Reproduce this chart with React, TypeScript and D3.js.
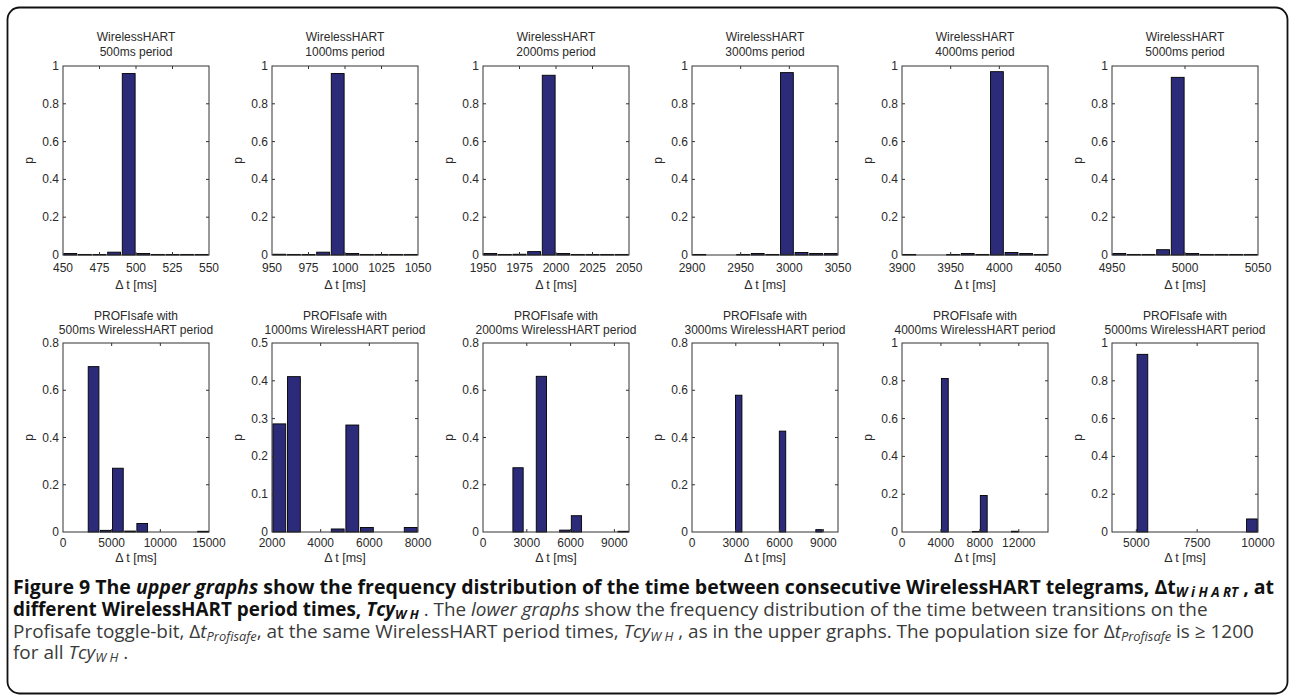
import React, { useEffect, useRef, useState } from 'react';
import * as d3 from 'd3';

// WirelessHART period times (ms) for the six columns
const periods = [500, 1000, 2000, 3000, 4000, 5000];

// Upper row: time between consecutive WirelessHART telegrams
const whDomains: [number, number][] = [
  [450, 550], [950, 1050], [1950, 2050], [2900, 3050], [3900, 4050], [4950, 5050],
];
const whTicks = [
  [450, 475, 500, 525, 550],
  [950, 975, 1000, 1025, 1050],
  [1950, 1975, 2000, 2025, 2050],
  [2900, 2950, 3000, 3050],
  [3900, 3950, 4000, 4050],
  [4950, 5000, 5050],
];
const whBinWidth = [10, 10, 10, 15, 15, 10];
const whCenters = [
  [455, 465, 475, 485, 495, 505, 515, 525, 535, 545],
  [955, 965, 975, 985, 995, 1005, 1015, 1025, 1035, 1045],
  [1955, 1965, 1975, 1985, 1995, 2005, 2015, 2025, 2035, 2045],
  [2907.5, 2922.5, 2937.5, 2952.5, 2967.5, 2982.5, 2997.5, 3012.5, 3027.5, 3042.5],
  [3907.5, 3922.5, 3937.5, 3952.5, 3967.5, 3982.5, 3997.5, 4012.5, 4027.5, 4042.5],
  [4955, 4965, 4975, 4985, 4995, 5005, 5015, 5025, 5035, 5045],
];
const whValues = [
  [0.008, 0.003, 0.003, 0.015, 0.960, 0.008, 0.003, 0.003, 0.003, 0.003],
  [0.004, 0.003, 0.003, 0.015, 0.960, 0.008, 0.003, 0.003, 0.003, 0.003],
  [0.008, 0.003, 0.004, 0.018, 0.951, 0.008, 0.003, 0.003, 0.003, 0.003],
  [0.003, 0, 0, 0.003, 0.008, 0.003, 0.965, 0.013, 0.008, 0.008],
  [0.003, 0, 0, 0.003, 0.008, 0.003, 0.970, 0.013, 0.008, 0.003],
  [0.008, 0.003, 0.003, 0.028, 0.940, 0.008, 0.003, 0.003, 0.003, 0.003],
];
const whYTicks = [0, 0.2, 0.4, 0.6, 0.8, 1];

// Lower row: time between transitions on the PROFIsafe toggle-bit
const psDomains: [number, number][] = [
  [0, 15000], [2000, 8000], [0, 10000], [0, 10000], [0, 15000], [4000, 10000],
];
const psTicks = [
  [0, 5000, 10000, 15000],
  [2000, 4000, 6000, 8000],
  [0, 3000, 6000, 9000],
  [0, 3000, 6000, 9000],
  [0, 4000, 8000, 12000],
  [5000, 7500, 10000],
];
const psBinWidth = [1250, 600, 800, 500, 800, 500];
const psCenters = [
  [3140, 4390, 5640, 6890, 8140, 9390, 10640, 11890, 13140, 14390],
  [2300, 2900, 3500, 4100, 4700, 5300, 5900, 6500, 7100, 7700],
  [2400, 3200, 4000, 4800, 5600, 6400, 7200, 8000, 8800, 9600],
  [3200, 3700, 4200, 4700, 5200, 5700, 6200, 6700, 7200, 7700, 8200, 8700],
  [4400, 5200, 6000, 6800, 7600, 8400, 9200, 10000, 10800, 11600],
  [5250, 5750, 6250, 6750, 7250, 7750, 8250, 8750, 9250, 9750],
];
const psValues = [
  [0.700, 0.007, 0.270, 0.004, 0.036, 0, 0, 0, 0, 0.003],
  [0.286, 0.411, 0, 0, 0.008, 0.283, 0.012, 0, 0, 0.012],
  [0.272, 0, 0.659, 0, 0.008, 0.069, 0, 0, 0, 0.003],
  [0.579, 0, 0, 0, 0, 0, 0.427, 0, 0, 0, 0, 0.010],
  [0.812, 0, 0, 0, 0.003, 0.193, 0, 0, 0, 0.004],
  [0.940, 0, 0, 0, 0, 0, 0, 0, 0, 0.069],
];
const psYMax = [0.8, 0.5, 0.8, 0.8, 1, 1];
const psYTicks = [
  [0, 0.2, 0.4, 0.6, 0.8],
  [0, 0.1, 0.2, 0.3, 0.4, 0.5],
  [0, 0.2, 0.4, 0.6, 0.8],
  [0, 0.2, 0.4, 0.6, 0.8],
  [0, 0.2, 0.4, 0.6, 0.8, 1],
  [0, 0.2, 0.4, 0.6, 0.8, 1],
];

// layout
const W = 1293;
const H = 696;
const colLeft = [63, 272, 483, 692, 902, 1112];
const plotW = 146;
const plotH = 189;
const rows = [
  { top: 66, title: [-25.5, -10], tick: 16.5, label: 33.5 },
  { top: 343, title: [-23.5, -9.5], tick: 15, label: 29.5 },
];
const BAR = '#2b2b7a';
const INK = '#2a2a2a';
const FONT = '"Liberation Sans", Arial, Helvetica, sans-serif';

// caption: right ends of the first three lines (ragged right) and baselines
const captionRight = [1275, 1208, 1254];
const captionBase = [594, 616, 637.5, 659];

interface PanelProps {
  left: number;
  row: typeof rows[number];
  title: string[];
  xDomain: [number, number];
  xTicks: number[];
  centers: number[];
  values: number[];
  binWidth: number;
  yMax: number;
  yTicks: number[];
}

const fmtY = (v: number) => String(+v.toFixed(1));

const Panel: React.FC<PanelProps> = ({ left, row, title, xDomain, xTicks, centers, values, binWidth, yMax, yTicks }) => {
  const top = row.top;
  const x = d3.scaleLinear().domain(xDomain).range([left, left + plotW]);
  const y = d3.scaleLinear().domain([0, yMax]).range([top + plotH, top]);
  const half = binWidth * 0.44;
  const tl = 3;

  return (
    <g fontFamily={FONT} fill={INK}>
      {title.map((t, i) => (
        <text key={i} x={left + plotW / 2} y={top + row.title[i]} textAnchor="middle" fontSize={12}>{t}</text>
      ))}
      {values.map((v, i) => v > 0 && (
        <rect
          key={i}
          x={x(centers[i] - half)}
          y={y(v)}
          width={x(centers[i] + half) - x(centers[i] - half)}
          height={y(0) - y(v)}
          fill={BAR}
          stroke="#000"
          strokeWidth={0.9}
        />
      ))}
      <rect x={left} y={top} width={plotW} height={plotH} fill="none" stroke="#333" strokeWidth={1} />
      {xTicks.map(t => (
        <g key={t}>
          {x(t) > left + 0.5 && x(t) < left + plotW - 0.5 && (
            <>
              <line x1={x(t)} x2={x(t)} y1={top + plotH} y2={top + plotH - tl} stroke="#333" />
              <line x1={x(t)} x2={x(t)} y1={top} y2={top + tl} stroke="#333" />
            </>
          )}
          <text x={x(t)} y={top + plotH + row.tick} textAnchor="middle" fontSize={12}>{t}</text>
        </g>
      ))}
      {yTicks.map(t => (
        <g key={t}>
          {t > 0 && t < yMax && (
            <>
              <line x1={left} x2={left + tl} y1={y(t)} y2={y(t)} stroke="#333" />
              <line x1={left + plotW} x2={left + plotW - tl} y1={y(t)} y2={y(t)} stroke="#333" />
            </>
          )}
          <text x={left - 4} y={y(t) + 4} textAnchor="end" fontSize={12}>{fmtY(t)}</text>
        </g>
      ))}
      <text x={left + plotW / 2} y={top + plotH + row.label} textAnchor="middle" fontSize={12.5}>{'\u0394 t [ms]'}</text>
      <text transform={`translate(${left - 30},${top + plotH / 2}) rotate(-90)`} textAnchor="middle" fontSize={12}>p</text>
    </g>
  );
};

const Caption: React.FC = () => {
  const refs = useRef<(SVGTextElement | null)[]>([]);
  const base = 16;
  const [sizes, setSizes] = useState<number[]>([base, base, base, base]);
  const x0 = 13;

  useEffect(() => {
    // scale each of the first three lines so its right end lands where the figure's does
    const fitted = captionRight.map((r, i) => {
      const el = refs.current[i];
      const w = el ? el.getComputedTextLength() : 0;
      return w > 0 ? base * (r - x0) / w : base;
    });
    setSizes([...fitted, fitted[2]]);
  }, []);

  const bold = { fontWeight: 700, fill: '#111' };
  const bi = { fontWeight: 700, fontStyle: 'italic', fill: '#111' };
  const it = { fontStyle: 'italic' };
  const dy = 3;
  const line = (i: number) => ({
    ref: (el: SVGTextElement | null) => { refs.current[i] = el; },
    x: x0,
    y: captionBase[i],
    fontSize: sizes[i],
  });
  const sub = (i: number) => sizes[i] * 0.68;

  return (
    <g fontFamily='"Open Sans", "Noto Sans", sans-serif' fill="#3a3a3a">
      <text {...line(0)}>
        <tspan style={bold}>{'Figure 9 The '}</tspan>
        <tspan style={bi}>upper graphs</tspan>
        <tspan style={bold}>{' show the frequency distribution of the time between consecutive WirelessHART telegrams, \u0394t'}</tspan>
        <tspan style={bi} fontSize={sub(0)} dy={dy}>{'W i H A RT'}</tspan>
        <tspan style={bold} dy={-dy}>{' , at'}</tspan>
      </text>
      <text {...line(1)}>
        <tspan style={bold}>{'different WirelessHART period times, '}</tspan>
        <tspan style={bi}>Tcy</tspan>
        <tspan style={bi} fontSize={sub(1)} dy={dy}>{'W H'}</tspan>
        <tspan dy={-dy}>{' . The '}</tspan>
        <tspan style={it}>lower graphs</tspan>
        <tspan>{' show the frequency distribution of the time between transitions on the'}</tspan>
      </text>
      <text {...line(2)}>
        <tspan>{'Profisafe toggle-bit, \u0394'}</tspan>
        <tspan style={it}>t</tspan>
        <tspan style={it} fontSize={sub(2)} dy={dy}>Profisafe</tspan>
        <tspan dy={-dy}>{', at the same WirelessHART period times, '}</tspan>
        <tspan style={it}>Tcy</tspan>
        <tspan style={it} fontSize={sub(2)} dy={dy}>{'W H'}</tspan>
        <tspan dy={-dy}>{' , as in the upper graphs. The population size for \u0394'}</tspan>
        <tspan style={it}>t</tspan>
        <tspan style={it} fontSize={sub(2)} dy={dy}>Profisafe</tspan>
        <tspan dy={-dy}>{' is \u2265 1200'}</tspan>
      </text>
      <text {...line(3)}>
        <tspan>{'for all '}</tspan>
        <tspan style={it}>Tcy</tspan>
        <tspan style={it} fontSize={sub(3)} dy={dy}>{'W H'}</tspan>
        <tspan dy={-dy}>{' .'}</tspan>
      </text>
    </g>
  );
};

export default function App() {
  return (
    <div style={{ position: 'fixed', left: 0, top: 0, width: W, height: H, background: '#fff' }}>
      <svg width={W} height={H} viewBox={`0 0 ${W} ${H}`} style={{ display: 'block' }}>
        <rect x={0} y={0} width={W} height={H} fill="#fff" />
        <rect x={7.5} y={7.5} width={1280} height={686} rx={12} fill="none" stroke="#111" strokeWidth={1.8} />
        {periods.map((p, i) => (
          <Panel
            key={'wh' + p}
            left={colLeft[i]}
            row={rows[0]}
            title={['WirelessHART', `${p}ms period`]}
            xDomain={whDomains[i]}
            xTicks={whTicks[i]}
            centers={whCenters[i]}
            values={whValues[i]}
            binWidth={whBinWidth[i]}
            yMax={1}
            yTicks={whYTicks}
          />
        ))}
        {periods.map((p, i) => (
          <Panel
            key={'ps' + p}
            left={colLeft[i]}
            row={rows[1]}
            title={['PROFIsafe with', `${p}ms WirelessHART period`]}
            xDomain={psDomains[i]}
            xTicks={psTicks[i]}
            centers={psCenters[i]}
            values={psValues[i]}
            binWidth={psBinWidth[i]}
            yMax={psYMax[i]}
            yTicks={psYTicks[i]}
          />
        ))}
        <Caption />
      </svg>
    </div>
  );
}
